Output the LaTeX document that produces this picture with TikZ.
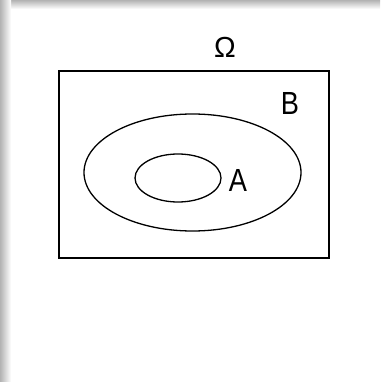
\documentclass[tikz,border=0pt]{standalone}
\usepackage{fontspec}
\setmainfont{Liberation Sans}
\usetikzlibrary{shapes.geometric}
\begin{document}
\begin{tikzpicture}[x=1pt,y=-1pt,
  lbl/.style={inner sep=0pt,font=\fontsize{32}{32}\selectfont},
  ln/.style={draw=black,line width=1.3pt}]
\useasboundingbox (0,0) rectangle (380,382);
\fill[white] (0,0) rectangle (380,382);
\shade[top color=gray!60,bottom color=white] (0,0) rectangle (380,9);
\shade[left color=gray!60,right color=white] (0,0) rectangle (11,382);
\fill[white] (11,9) rectangle (380,382);
\node[ln,line width=1.6pt,rectangle,minimum width=270pt,minimum height=187pt,inner sep=0pt] (omega) at (194,164.5) {};
\node[ln,ellipse,minimum width=217pt,minimum height=117pt,inner sep=0pt] (B) at (192.5,172.5) {};
\node[ln,ellipse,minimum width=86pt,minimum height=48pt,inner sep=0pt] (A) at (178,178) {};
\node[lbl,font=\fontsize{29}{29}\selectfont] (tO) at (225,47) {Ω};
\node[lbl,xscale=0.85] (tB) at (290,103.5) {B};
\node[lbl,xscale=0.85] (tA) at (238,180) {A};
\end{tikzpicture}
\end{document}
